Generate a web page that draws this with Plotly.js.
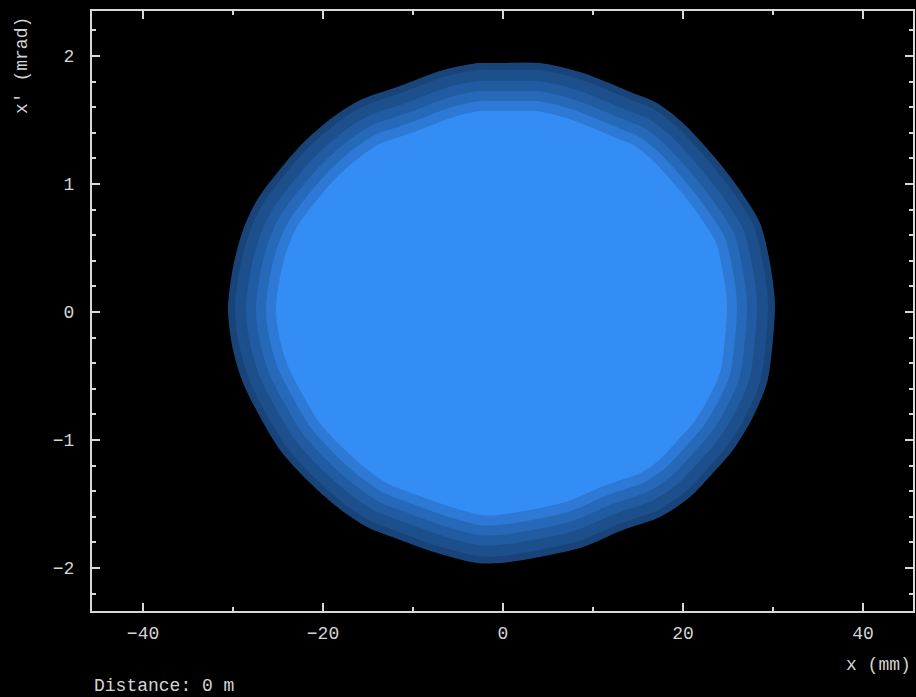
<!DOCTYPE html>
<html>
<head>
<meta charset="utf-8">
<script src="https://cdn.plot.ly/plotly-3.0.1.min.js"></script>
<style>html,body{margin:0;padding:0;background:#000;}#chart{width:916px;height:697px;}</style>
</head>
<body>
<div id="chart"></div>
<script>
// Outline of the particle cloud in (x [mm], x' [mrad])
const edgeX = [-0.33, 4.11, 8.89, 14.44, 17.11, 20.0, 23.78, 26.33, 28.56, 29.67, 30.22, 29.89, 29.33, 27.78, 25.56, 23.33, 20.78, 17.44, 13.33, 8.89, 4.11, -0.33, -2.89, -7.33, -11.44, -15.11, -18.44, -21.78, -24.78, -27.0, -28.89, -30.0, -30.56, -30.0, -28.89, -27.33, -25.11, -22.22, -18.89, -15.89, -11.78, -6.67, -2.89];
const edgeY = [1.945, 1.945, 1.867, 1.711, 1.633, 1.477, 1.188, 0.953, 0.695, 0.383, 0.070, -0.297, -0.555, -0.820, -1.078, -1.258, -1.445, -1.602, -1.703, -1.836, -1.914, -1.961, -1.961, -1.883, -1.781, -1.680, -1.523, -1.313, -1.078, -0.820, -0.555, -0.297, 0.016, 0.352, 0.641, 0.875, 1.086, 1.320, 1.523, 1.656, 1.758, 1.891, 1.945];
const xTicks = [-40, -20, 0, 20, 40];
const yTicks = [-2, -1, 0, 1, 2];

const loopX = edgeX.concat([edgeX[0], edgeX[1]]);
const loopY = edgeY.concat([edgeY[0], edgeY[1]]);
const blue = 'rgb(52,140,245)';

const traces = [
  {x: edgeX, y: edgeY, type: 'scatter', mode: 'lines', fill: 'toself', fillcolor: blue,
   line: {width: 0, color: blue, shape: 'spline', smoothing: 0.8}, hoverinfo: 'skip'}
];
// darkening halo along the edge, to render the thinning, speckled rim of the cloud
[96, 76, 56, 36, 14].forEach(function (w) {
  traces.push({x: loopX, y: loopY, type: 'scatter', mode: 'lines',
    line: {width: w, color: 'rgba(0,0,0,0.13)', shape: 'spline', smoothing: 0.8}, hoverinfo: 'skip'});
});

const txtFont = {family: 'Liberation Mono, DejaVu Sans Mono, monospace', size: 18, color: '#d4d4d4'};
const axisCommon = {
  showline: true, linecolor: '#d8d8d8', linewidth: 2, mirror: 'allticks',
  ticks: 'inside', ticklen: 8, tickwidth: 2, tickcolor: '#d8d8d8',
  showgrid: false, zeroline: false, tickfont: txtFont, fixedrange: true
};

const layout = {
  width: 916, height: 697,
  paper_bgcolor: '#000', plot_bgcolor: '#000',
  margin: {l: 92, r: 3, t: 11, b: 86},
  showlegend: false,
  hovermode: false,
  xaxis: Object.assign({}, axisCommon, {
    range: [-45.67, 45.56], tickmode: 'array', tickvals: xTicks,
    ticktext: xTicks.map(v => v < 0 ? '\u2212' + Math.abs(v) : String(v)),
    ticklabelstandoff: 4,
    minor: {dtick: 10, ticks: 'inside', ticklen: 4, tickwidth: 2, tickcolor: '#d8d8d8'}
  }),
  yaxis: Object.assign({}, axisCommon, {
    range: [-2.336, 2.352], tickmode: 'array', tickvals: yTicks,
    ticktext: yTicks.map(v => v < 0 ? '\u2212' + Math.abs(v) : String(v)),
    ticklabelstandoff: 12,
    minor: {dtick: 0.2, ticks: 'inside', ticklen: 4, tickwidth: 2, tickcolor: '#d8d8d8'}
  }),
  annotations: [
    {text: "x' (mrad)", xref: 'paper', yref: 'paper', x: -0.0853, y: 0.91, xanchor: 'center', yanchor: 'middle', textangle: -90, showarrow: false, font: txtFont},
    {text: 'x (mm)', xref: 'paper', yref: 'paper', x: 1.0, y: -0.09, xanchor: 'right', yanchor: 'middle', showarrow: false, font: txtFont},
    {text: 'Distance: 0 m', xref: 'paper', yref: 'paper', x: 0.0, y: -0.125, xanchor: 'left', yanchor: 'middle', showarrow: false, font: txtFont}
  ]
};

Plotly.newPlot('chart', traces, layout, {displayModeBar: false, staticPlot: true});
</script>
</body>
</html>
